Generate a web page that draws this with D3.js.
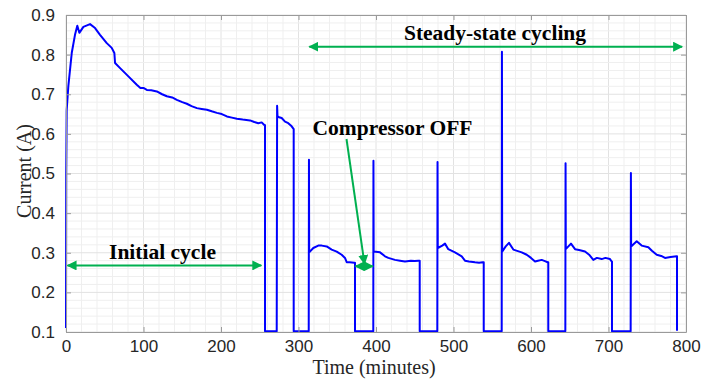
<!DOCTYPE html>
<html>
<head>
<meta charset="utf-8">
<script src="https://cdn.jsdelivr.net/npm/d3@7"></script>
<style>
  body { margin: 0; background: #fff; }
  svg { display: block; }
</style>
</head>
<body>
<div id="chart"></div>
<script>
// time (minutes) and current (A)
var timeMin = [
  0, 0.3, 0.9, 3, 7.4, 11.6, 14.6, 17.2, 22.4, 31, 37.5, 43.9, 52.6, 59, 62.4, 63.3,
  69.8, 80.5, 91.3, 96, 99.9, 104.3, 110, 117.2, 124, 130.1, 137, 143, 150, 155.9,
  162, 168.9, 175, 181.8, 188, 194.7, 201, 207.6, 214, 220.5, 228, 237.4, 243, 248.1,
  252.5, 255.5, 256.8, 256.8, 271.9, 272.4, 272.9, 275, 278.3, 282.6, 286.8, 291.2,
  293.8, 293.8, 313.2, 313.5, 313.8, 319.1, 325.5, 330, 336.4, 342.8, 349.3, 355.7,
  360, 362.2, 366, 372, 372.9, 372.9, 396.5, 396.7, 397, 405.2, 411.6, 415.9, 424.5,
  431, 437.4, 445, 450, 454.6, 456.4, 456.4, 479.1, 479.4, 479.7, 485.5, 489, 493.3,
  501.9, 510.6, 514.8, 520, 527.7, 533, 537.7, 539, 539, 562.2, 562.5, 562.8, 567.4,
  571.6, 577.2, 588, 594.5, 600, 605.2, 609, 613.8, 618, 621.5, 622.3, 622.3, 644.3,
  644.6, 644.9, 651.6, 656.8, 662, 669.7, 675, 680.4, 685, 691.2, 696, 701.9, 704.1,
  704.5, 704.5, 728.6, 728.9, 729.2, 736.4, 742.8, 751.4, 756, 762.2, 768, 772.9,
  780, 788, 788.4, 788.4
];
var currentA = [
  0.11, 0.5, 0.66, 0.72, 0.804, 0.85, 0.873, 0.855, 0.87, 0.877, 0.867, 0.85, 0.829, 0.817, 0.804, 0.779,
  0.766, 0.745, 0.724, 0.716, 0.716, 0.711, 0.71, 0.707, 0.7, 0.695, 0.692, 0.686, 0.68, 0.676,
  0.67, 0.665, 0.663, 0.661, 0.657, 0.653, 0.65, 0.644, 0.641, 0.638, 0.636, 0.634, 0.63, 0.627,
  0.629, 0.623, 0.622, 0.102, 0.102, 0.671, 0.644, 0.642, 0.64, 0.631, 0.627, 0.619,
  0.612, 0.102, 0.102, 0.535, 0.301, 0.312, 0.318, 0.318, 0.316, 0.308, 0.303, 0.295,
  0.287, 0.276, 0.276, 0.275, 0.275, 0.102, 0.102, 0.532, 0.303, 0.301, 0.291, 0.287, 0.282,
  0.28, 0.278, 0.28, 0.279, 0.28, 0.28, 0.102, 0.102, 0.529, 0.312, 0.318, 0.323, 0.309,
  0.301, 0.291, 0.28, 0.278, 0.276, 0.275, 0.276, 0.276, 0.102, 0.102, 0.807, 0.303, 0.316,
  0.325, 0.308, 0.301, 0.295, 0.287, 0.278, 0.28, 0.282, 0.279, 0.276, 0.276, 0.102, 0.102,
  0.526, 0.309, 0.323, 0.309, 0.307, 0.303, 0.295, 0.282, 0.287, 0.284, 0.287, 0.284, 0.278,
  0.278, 0.102, 0.102, 0.501, 0.316, 0.329, 0.318, 0.314, 0.305, 0.295, 0.292, 0.287,
  0.289, 0.291, 0.291, 0.103
];
var xTicks = [0, 100, 200, 300, 400, 500, 600, 700, 800];
var yTicks = [0.1, 0.2, 0.3, 0.4, 0.5, 0.6, 0.7, 0.8, 0.9];

var W = 715, H = 379;
var green = '#00b050';
var serif = '"Liberation Serif", "Times New Roman", serif';

var svg = d3.select('#chart').append('svg')
    .attr('width', W)
    .attr('height', H);

var x = d3.scaleLinear().domain([0, 800]).range([66, 686]);
var y = d3.scaleLinear().domain([0.1, 0.9]).range([332, 15]);

// minor grid
var gridG = svg.append('g');
gridG.selectAll('line.vx')
    .data(d3.range(0, 801, 20))
    .join('line')
    .attr('x1', d => x(d)).attr('x2', d => x(d))
    .attr('y1', y(0.1)).attr('y2', y(0.9))
    .attr('stroke', d => d % 100 == 0 ? '#e2e2e2' : '#efefef')
    .attr('stroke-width', 1);
gridG.selectAll('line.hy')
    .data(d3.range(0, 41).map(i => 0.1 + i * 0.02))
    .join('line')
    .attr('y1', d => y(d)).attr('y2', d => y(d))
    .attr('x1', x(0)).attr('x2', x(800))
    .attr('stroke', (d, i) => i % 5 == 0 ? '#e2e2e2' : '#efefef')
    .attr('stroke-width', 1);

// data line
var pts = timeMin.map((t, i) => [t, currentA[i]]);
svg.append('path')
    .datum(pts)
    .attr('fill', 'none')
    .attr('stroke', '#0000ff')
    .attr('stroke-width', 2)
    .attr('stroke-linejoin', 'round')
    .attr('d', d3.line().x(d => x(d[0])).y(d => y(d[1])));

// axes (box with inward ticks on all sides)
function styleAxis(g) {
    g.select('.domain').attr('stroke', '#9a9a9a');
    g.selectAll('.tick line').attr('stroke', '#9a9a9a');
    g.selectAll('.tick text')
        .attr('fill', '#262626')
        .style('font-family', '"Liberation Sans", Arial, sans-serif')
        .style('font-size', '17px');
}
svg.append('g')
    .attr('transform', 'translate(0,' + y(0.1) + ')')
    .call(d3.axisBottom(x).tickValues(xTicks).tickSizeInner(-5).tickSizeOuter(0).tickPadding(8))
    .call(styleAxis);
svg.append('g')
    .attr('transform', 'translate(0,' + y(0.9) + ')')
    .call(d3.axisTop(x).tickValues(xTicks).tickSizeInner(-5).tickSizeOuter(0).tickFormat(''))
    .call(styleAxis);
svg.append('g')
    .attr('transform', 'translate(' + x(0) + ',0)')
    .call(d3.axisLeft(y).tickValues(yTicks).tickSizeInner(-5).tickSizeOuter(0).tickPadding(11).tickFormat(d3.format('.1f')))
    .call(styleAxis);
svg.append('g')
    .attr('transform', 'translate(' + x(800) + ',0)')
    .call(d3.axisRight(y).tickValues(yTicks).tickSizeInner(-5).tickSizeOuter(0).tickFormat(''))
    .call(styleAxis);

// axis titles
svg.append('text')
    .attr('x', 374).attr('y', 374)
    .attr('text-anchor', 'middle')
    .style('font-family', serif)
    .style('font-size', '20px')
    .attr('fill', '#262626')
    .text('Time (minutes)');
svg.append('text')
    .attr('transform', 'translate(31,' + 171 + ') rotate(-90)')
    .attr('text-anchor', 'middle')
    .style('font-family', serif)
    .style('font-size', '20px')
    .attr('fill', '#262626')
    .text('Current (A)');

// arrow markers
var defs = svg.append('defs');
defs.append('marker')
    .attr('id', 'ah')
    .attr('viewBox', '0 0 10 10')
    .attr('refX', 9).attr('refY', 5)
    .attr('markerWidth', 5).attr('markerHeight', 5)
    .attr('markerUnits', 'strokeWidth')
    .attr('orient', 'auto-start-reverse')
    .append('path')
    .attr('d', 'M0,0 L10,5 L0,10 z')
    .attr('fill', green);

function dblArrow(t1, t2, v) {
    svg.append('line')
        .attr('x1', x(t1)).attr('x2', x(t2))
        .attr('y1', y(v)).attr('y2', y(v))
        .attr('stroke', green).attr('stroke-width', 2)
        .attr('marker-start', 'url(#ah)')
        .attr('marker-end', 'url(#ah)');
}
function label(px, py, txt) {
    svg.append('text')
        .attr('x', px).attr('y', py)
        .attr('text-anchor', 'middle')
        .style('font-family', serif)
        .style('font-weight', 'bold')
        .style('font-size', '21.5px')
        .attr('fill', '#000')
        .text(txt);
}

dblArrow(314, 795, 0.82);
label(495, 40, 'Steady-state cycling');

dblArrow(2, 252, 0.268);
label(162.5, 259, 'Initial cycle');

dblArrow(373.5, 396, 0.266);
svg.append('line')
    .attr('x1', 346.5).attr('y1', 139)
    .attr('x2', 364.5).attr('y2', 264)
    .attr('stroke', green).attr('stroke-width', 2)
    .attr('marker-end', 'url(#ah)');
label(392.5, 135, 'Compressor OFF');
</script>
</body>
</html>
